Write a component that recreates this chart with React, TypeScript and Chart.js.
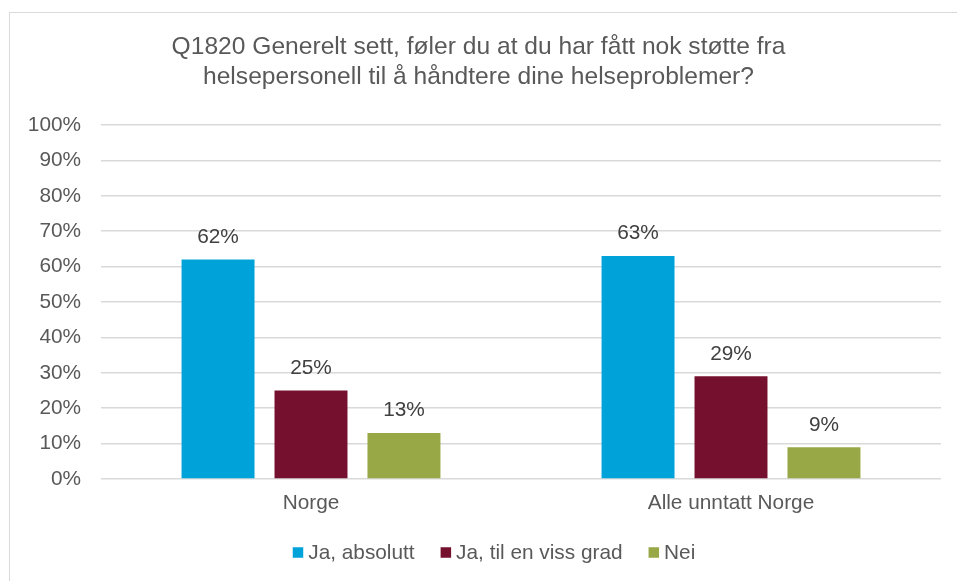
import React, { useEffect, useRef } from "react";
import { Chart, registerables } from "chart.js";

Chart.register(...registerables);

const categories = ["Norge", "Alle unntatt Norge"];
const seriesNames = ["Ja, absolutt", "Ja, til en viss grad", "Nei"];
const jaAbsolutt = [62, 63];
const jaViss = [25, 29];
const nei = [13, 9];
const seriesColors = ["#00A3D9", "#76102F", "#98A847"];
const titleLines = [
  "Q1820 Generelt sett, føler du at du har fått nok støtte fra",
  "helsepersonell til å håndtere dine helseproblemer?",
];
const FONT = "'Liberation Sans', Arial, sans-serif";
const FS = 20.8;

const dataLabels = {
  id: "dataLabels",
  afterDatasetsDraw(chart: any) {
    const ctx = chart.ctx;
    ctx.save();
    ctx.font = `${FS}px ${FONT}`;
    ctx.fillStyle = "#404040";
    ctx.textAlign = "center";
    ctx.textBaseline = "alphabetic";
    chart.data.datasets.forEach((ds: any, i: number) => {
      const meta = chart.getDatasetMeta(i);
      meta.data.forEach((bar: any, j: number) => {
        ctx.fillText(ds.data[j] + "%", bar.x, bar.y - 16.5);
      });
    });
    ctx.restore();
  },
};

const customLegend = {
  id: "customLegend",
  afterDraw(chart: any) {
    const ctx = chart.ctx;
    ctx.save();
    ctx.font = `${FS}px ${FONT}`;
    const box = 10.5;
    const gapBoxText = 5;
    const gapItems = 26;
    const widths = seriesNames.map((n) => ctx.measureText(n).width);
    const total =
      widths.reduce((a, b) => a + b, 0) + seriesNames.length * (box + gapBoxText) + gapItems * (seriesNames.length - 1);
    let x = 494 - total / 2;
    const cy = 552.5;
    ctx.textBaseline = "middle";
    ctx.textAlign = "left";
    seriesNames.forEach((n, i) => {
      ctx.fillStyle = seriesColors[i];
      ctx.fillRect(x, cy - box / 2, box, box);
      ctx.fillStyle = "#595959";
      ctx.fillText(n, x + box + gapBoxText, cy + 1);
      x += box + gapBoxText + widths[i] + gapItems;
    });
    ctx.restore();
  },
};

export default function App() {
  const ref = useRef<HTMLCanvasElement>(null);
  useEffect(() => {
    if (!ref.current) return;
    const chart = new Chart(ref.current, {
      type: "bar",
      data: {
        labels: categories,
        datasets: [jaAbsolutt, jaViss, nei].map((d, i) => ({
          label: seriesNames[i],
          data: d,
          backgroundColor: seriesColors[i],
          categoryPercentage: 0.664,
          barPercentage: 0.785,
        })),
      },
      options: {
        animation: false,
        responsive: false,
        maintainAspectRatio: false,
        layout: { padding: { top: 0, right: 16, bottom: 66, left: 16 } },
        plugins: {
          legend: { display: false },
          tooltip: { enabled: false },
          title: {
            display: true,
            text: titleLines,
            color: "#595959",
            font: { family: FONT, size: 24.6, weight: "normal", lineHeight: 30 / 24.6 },
            padding: { top: 32, bottom: 33 },
          },
        },
        scales: {
          x: {
            grid: { display: false, drawTicks: false },
            border: { display: false },
            ticks: { color: "#595959", font: { family: FONT, size: FS }, padding: 12 },
            afterFit: (s: any) => {
              s.height = 36;
            },
          },
          y: {
            min: 0,
            max: 100,
            ticks: {
              stepSize: 10,
              color: "#595959",
              font: { family: FONT, size: FS },
              padding: 20,
              callback: (v: any) => v + "%",
            },
            grid: { color: "#D9D9D9", lineWidth: 1.5, drawTicks: false },
            border: { display: false },
            afterFit: (s: any) => {
              s.width = 85;
            },
          },
        },
      },
      plugins: [dataLabels, customLegend],
    });
    return () => chart.destroy();
  }, []);
  return (
    <div style={{ position: "fixed", left: 0, top: 0, width: 957, height: 581, overflow: "hidden", background: "#fff" }}>
      <div
        style={{
          position: "absolute",
          left: 9,
          top: 12,
          width: 1000,
          height: 700,
          border: "1.5px solid #D9D9D9",
        }}
      />
      <canvas ref={ref} width={957} height={581} style={{ position: "absolute", left: 0, top: 0 }} />
    </div>
  );
}
